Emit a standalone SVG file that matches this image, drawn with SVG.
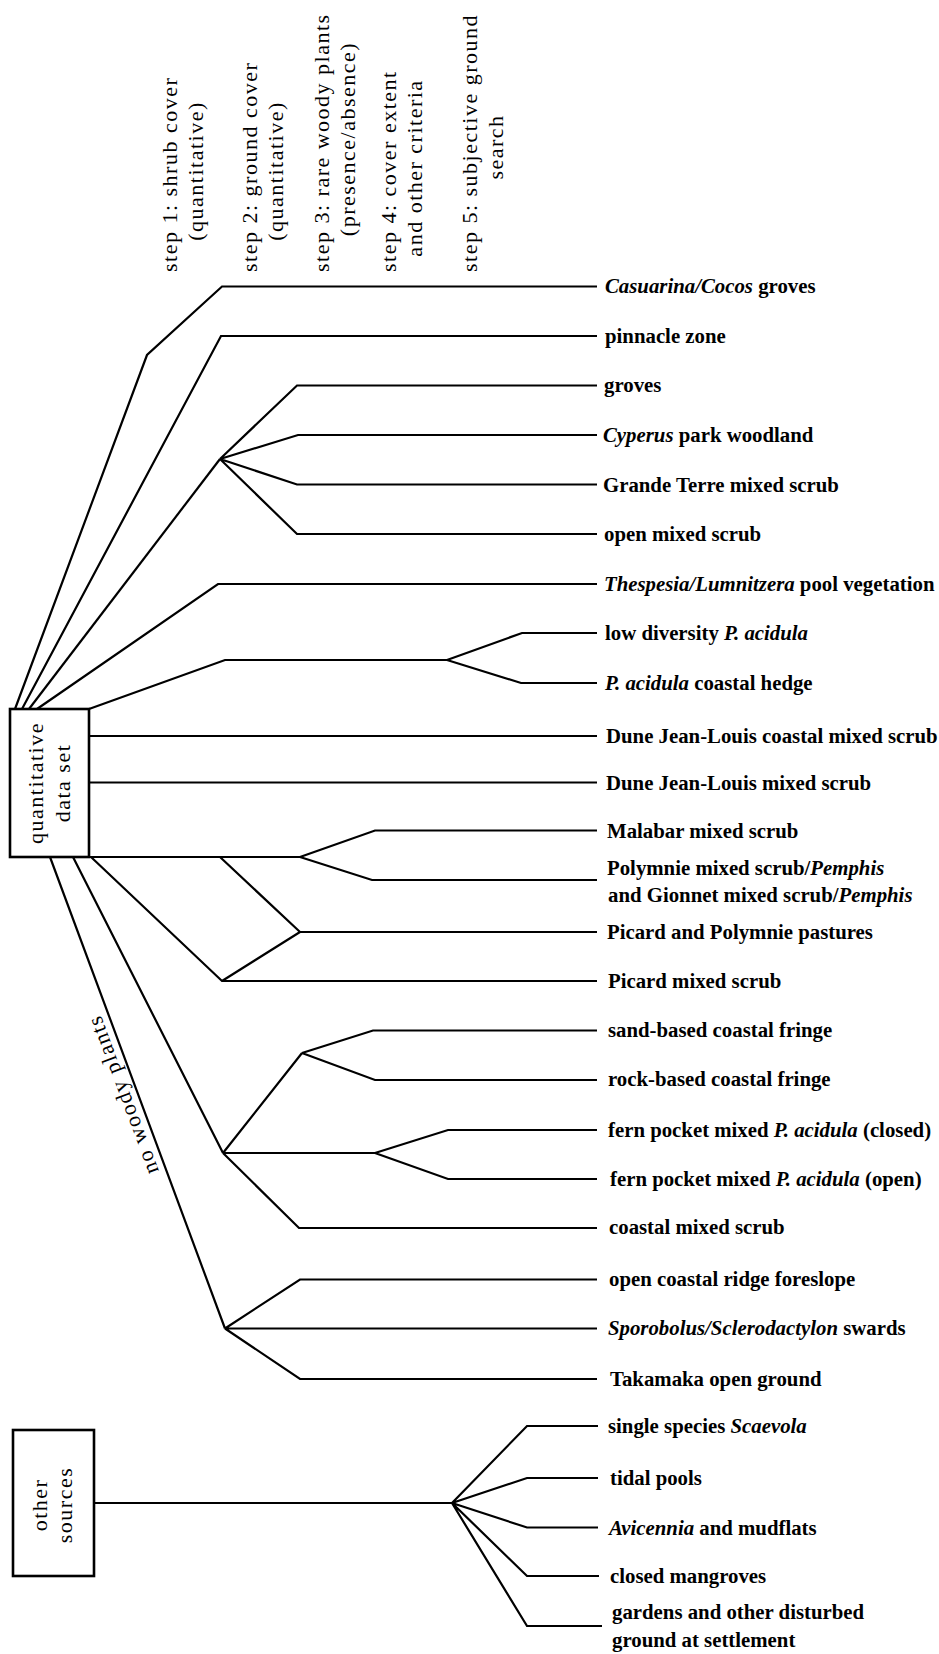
<svg xmlns="http://www.w3.org/2000/svg" width="939" height="1654" viewBox="0 0 939 1654">
<style>
text{font-family:"Liberation Serif","Times New Roman",serif;fill:#000}
.hd{font-size:22px;letter-spacing:1.5px}
.lb{font-size:20.8px;font-weight:bold}
.bx{font-size:22px;letter-spacing:1.5px}
.it{font-style:italic}
.c{fill:none;stroke:#000;stroke-width:2.2;stroke-linejoin:miter}
.box{fill:#fff;stroke:#000;stroke-width:2.6}
</style>
<rect width="939" height="1654" fill="#fff"/>
<g id="headers">
<g id="step1"><text class="hd" transform="translate(177,272) rotate(-90)">step 1: shrub cover</text><text class="hd" text-anchor="middle" transform="translate(203,171) rotate(-90)">(quantitative)</text></g>
<g id="step2"><text class="hd" transform="translate(257,272) rotate(-90)">step 2: ground cover</text><text class="hd" text-anchor="middle" transform="translate(283,171) rotate(-90)">(quantitative)</text></g>
<g id="step3"><text class="hd" transform="translate(329,272) rotate(-90)">step 3: rare woody plants</text><text class="hd" text-anchor="middle" transform="translate(355,139) rotate(-90)">(presence/absence)</text></g>
<g id="step4"><text class="hd" transform="translate(396,272) rotate(-90)">step 4: cover extent</text><text class="hd" text-anchor="middle" transform="translate(422,168) rotate(-90)">and other criteria</text></g>
<g id="step5"><text class="hd" transform="translate(477,272) rotate(-90)">step 5: subjective ground</text><text class="hd" text-anchor="middle" transform="translate(503,147) rotate(-90)">search</text></g>
</g>
<g id="connectors">
<path class="c" d="M15,709 L147,355 L222,286.5 L597,286.5"/>
<path class="c" d="M22,709 L221,336 L597,336"/>
<path class="c" d="M29,709 L220,459"/>
<path class="c" d="M220,459 L297,385.5 L597,385.5 M220,459 L298,435 L597,435 M220,459 L297,484.5 L597,484.5 M220,459 L297,534 L597,534"/>
<path class="c" d="M37,709 L218,584 L597,584"/>
<path class="c" d="M89,709 L225,660 L447,660 M447,660 L522,633 L597,633 M447,660 L521,683 L597,683"/>
<path class="c" d="M89,736 L597,736"/>
<path class="c" d="M89,782.5 L597,782.5"/>
<path class="c" d="M89,857 L300,857 M300,857 L375,830.5 L597,830.5 M300,857 L372,880 L597,880"/>
<path class="c" d="M220,857 L300,932 L597,932"/>
<path class="c" d="M91,857 L222,981 L597,981 M222,981 L300,932"/>
<path class="c" d="M73,857 L223,1153 M223,1153 L302,1053 M302,1053 L373,1030.5 L597,1030.5 M302,1053 L375,1080 L597,1080"/>
<path class="c" d="M223,1153 L375,1153 M375,1153 L448,1130 L597,1130 M375,1153 L448,1179 L597,1179 M223,1153 L299,1228 L597,1228"/>
<path class="c" d="M50,857 L225,1328.5 M225,1328.5 L300,1279.5 L597,1279.5 M225,1328.5 L597,1328.5 M225,1328.5 L300,1379 L597,1379"/>
<path class="c" d="M94,1503 L452,1503 M452,1503 L527,1426 L598,1426 M452,1503 L527,1478 L598,1478 M452,1503 L527,1527.5 L598,1527.5 M452,1503 L527,1576 L599,1576 M452,1503 L527,1626 L602,1626"/>
<text class="bx" transform="translate(159,1171) rotate(-110.5)">no woody plants</text>
</g>
<g id="quantitative-data-set">
<rect class="box" x="10" y="709" width="79" height="148"/>
<text class="bx" text-anchor="middle" transform="translate(43,783) rotate(-90)">quantitative</text>
<text class="bx" text-anchor="middle" transform="translate(70,783) rotate(-90)">data set</text>
</g>
<g id="other-sources">
<rect class="box" x="13" y="1430" width="81" height="146"/>
<text class="bx" text-anchor="middle" transform="translate(47,1505) rotate(-90)">other</text>
<text class="bx" text-anchor="middle" transform="translate(72,1505) rotate(-90)">sources</text>
</g>
<g id="n1"><text class="lb" x="605" y="293"><tspan class="it">Casuarina/Cocos</tspan> groves</text></g>
<g id="n2"><text class="lb" x="605" y="343">pinnacle zone</text></g>
<g id="n3"><text class="lb" x="604" y="392">groves</text></g>
<g id="n4"><text class="lb" x="603" y="442"><tspan class="it">Cyperus</tspan> park woodland</text></g>
<g id="n5"><text class="lb" x="603" y="491.5">Grande Terre mixed scrub</text></g>
<g id="n6"><text class="lb" x="604" y="541">open mixed scrub</text></g>
<g id="n7"><text class="lb" x="604" y="591"><tspan class="it">Thespesia/Lumnitzera</tspan> pool vegetation</text></g>
<g id="n8"><text class="lb" x="605" y="640">low diversity <tspan class="it">P. acidula</tspan></text></g>
<g id="n9"><text class="lb" x="605" y="690"><tspan class="it">P. acidula</tspan> coastal hedge</text></g>
<g id="n10"><text class="lb" x="606" y="743">Dune Jean-Louis coastal mixed scrub</text></g>
<g id="n11"><text class="lb" x="606" y="790">Dune Jean-Louis mixed scrub</text></g>
<g id="n12"><text class="lb" x="607" y="838">Malabar mixed scrub</text></g>
<g id="n13"><text class="lb" x="607" y="875">Polymnie mixed scrub/<tspan class="it">Pemphis</tspan></text><text class="lb" x="608" y="902">and Gionnet mixed scrub/<tspan class="it">Pemphis</tspan></text></g>
<g id="n14"><text class="lb" x="607" y="939">Picard and Polymnie pastures</text></g>
<g id="n15"><text class="lb" x="608" y="988">Picard mixed scrub</text></g>
<g id="n16"><text class="lb" x="608" y="1037">sand-based coastal fringe</text></g>
<g id="n17"><text class="lb" x="608" y="1086">rock-based coastal fringe</text></g>
<g id="n18"><text class="lb" x="608" y="1137">fern pocket mixed <tspan class="it">P. acidula</tspan> (closed)</text></g>
<g id="n19"><text class="lb" x="610" y="1186">fern pocket mixed <tspan class="it">P. acidula</tspan> (open)</text></g>
<g id="n20"><text class="lb" x="609" y="1234">coastal mixed scrub</text></g>
<g id="n21"><text class="lb" x="609" y="1286">open coastal ridge foreslope</text></g>
<g id="n22"><text class="lb" x="608" y="1335"><tspan class="it">Sporobolus/Sclerodactylon</tspan> swards</text></g>
<g id="n23"><text class="lb" x="610" y="1386">Takamaka open ground</text></g>
<g id="n24"><text class="lb" x="608" y="1433">single species <tspan class="it">Scaevola</tspan></text></g>
<g id="n25"><text class="lb" x="610" y="1485">tidal pools</text></g>
<g id="n26"><text class="lb" x="609" y="1534.5"><tspan class="it">Avicennia</tspan> and mudflats</text></g>
<g id="n27"><text class="lb" x="610" y="1583">closed mangroves</text></g>
<g id="n28"><text class="lb" x="612" y="1619">gardens and other disturbed</text><text class="lb" x="612" y="1647">ground at settlement</text></g>
</svg>
